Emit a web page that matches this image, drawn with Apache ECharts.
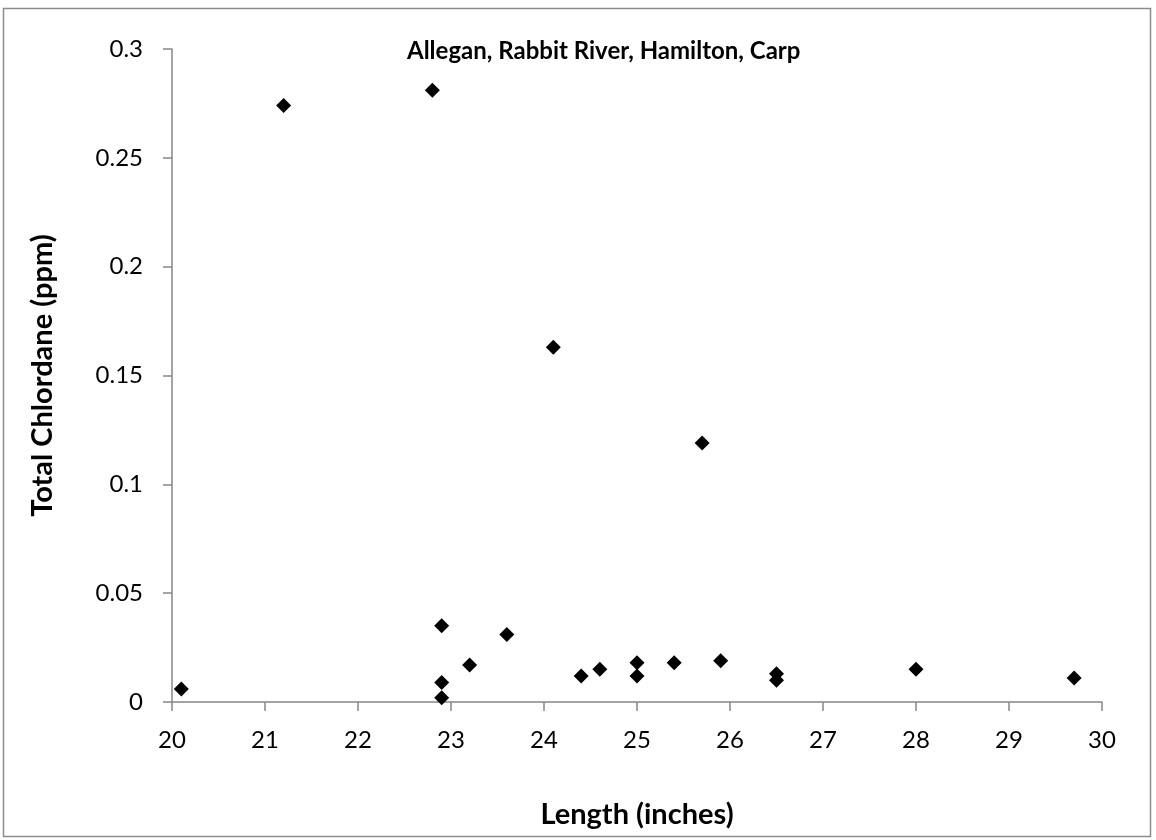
<!DOCTYPE html>
<html>
<head>
<meta charset="utf-8">
<script src="https://cdn.jsdelivr.net/npm/echarts@6/dist/echarts.min.js"></script>
<style>
html,body{margin:0;padding:0;background:#fff;}
#chart{width:1156px;height:840px;}
</style>
</head>
<body>
<div id="chart"></div>
<script>
const titleText = "Allegan, Rabbit River, Hamilton, Carp";
const xAxisTitle = "Length (inches)";
const yAxisTitle = "Total Chlordane (ppm)";
const lengths = [20.1, 21.2, 22.8, 22.9, 22.9, 22.9, 23.2, 23.6, 24.1, 24.4, 24.6, 25.0, 25.0, 25.4, 25.7, 25.9, 26.5, 26.5, 28.0, 29.7];
const chlordane = [0.006, 0.274, 0.281, 0.035, 0.009, 0.002, 0.017, 0.031, 0.163, 0.012, 0.015, 0.018, 0.012, 0.018, 0.119, 0.019, 0.013, 0.010, 0.015, 0.011];
const xRange = [20, 30, 1];
const yRange = [0, 0.3, 0.05];

const points = lengths.map((x, i) => [x, chlordane[i]]);
const font = "Lato, 'Open Sans', sans-serif";
const axisColor = '#868686';

const chart = echarts.init(document.getElementById('chart'), null, {renderer: 'canvas'});
chart.setOption({
  animation: false,
  backgroundColor: '#ffffff',
  title: {
    text: titleText,
    left: 402,
    top: 34,
    textStyle: {fontFamily: font, fontSize: 24, fontWeight: 'bold', color: '#000'}
  },
  grid: {left: 172, right: 54, top: 49, bottom: 138, containLabel: false},
  xAxis: {
    type: 'value',
    min: xRange[0], max: xRange[1], interval: xRange[2],
    name: xAxisTitle,
    nameLocation: 'middle',
    nameGap: 98,
    nameTextStyle: {fontFamily: font, fontSize: 29, fontWeight: 'bold', color: '#000'},
    axisLine: {show: true, onZero: false, lineStyle: {color: axisColor, width: 1.5}},
    axisTick: {show: true, inside: false, length: 9, lineStyle: {color: axisColor, width: 1.5}},
    axisLabel: {fontFamily: font, fontSize: 24, color: '#000', margin: 26},
    splitLine: {show: false}
  },
  yAxis: {
    type: 'value',
    min: yRange[0], max: yRange[1], interval: yRange[2],
    name: yAxisTitle,
    nameLocation: 'middle',
    nameGap: 115,
    nameRotate: 90,
    nameTextStyle: {fontFamily: font, fontSize: 29, fontWeight: 'bold', color: '#000'},
    axisLine: {show: true, lineStyle: {color: axisColor, width: 1.5}},
    axisTick: {show: true, inside: false, length: 9, lineStyle: {color: axisColor, width: 1.5}},
    axisLabel: {fontFamily: font, fontSize: 24, color: '#000', margin: 29},
    splitLine: {show: false}
  },
  graphic: [{
    type: 'rect',
    shape: {x: 3.5, y: 8.5, width: 1147, height: 828},
    style: {fill: 'none', stroke: '#8c8c8c', lineWidth: 1.5},
    silent: true
  }],
  series: [{
    type: 'scatter',
    data: points,
    symbol: 'diamond',
    symbolSize: 15,
    itemStyle: {color: '#000', opacity: 1}
  }]
});
</script>
</body>
</html>
